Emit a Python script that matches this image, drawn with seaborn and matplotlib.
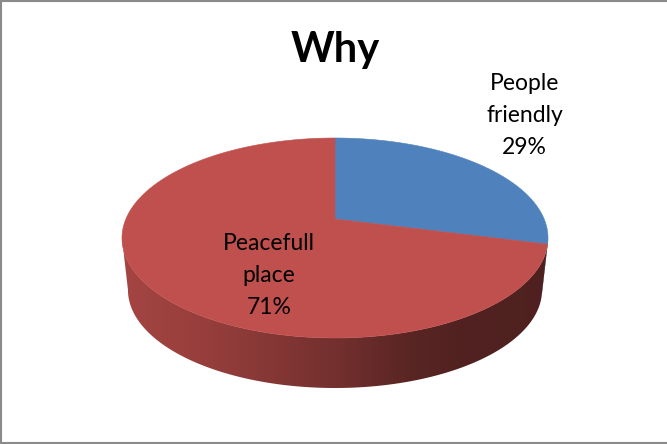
import matplotlib
matplotlib.use("Agg")
import matplotlib.pyplot as plt
import numpy as np
import seaborn as sns
from matplotlib.colors import LinearSegmentedColormap, to_rgb
from matplotlib.lines import Line2D
from matplotlib.patches import Polygon

# chart data
TITLE = "Why"
categories = ["People\nfriendly", "Peacefull\nplace"]
shares = [29, 71]
slice_colors = ["#4F81BD", "#C0504D"]

# label centres, in pie units (1 = pie radius)
label_pos = [(0.89, 1.225), (-0.31, -0.375)]

# pie geometry (pixels of a 667x444 canvas)
W_PX, H_PX = 667, 444
CX, CY = 335, 238          # centre of the top ellipse
RX, RY = 213, 100          # radii of the top ellipse
DEPTH = 0.52               # thickness, in RY units
BOTTOM_SX, BOTTOM_SY = 0.972, 0.98
TILT = np.arctanh(0.19)    # perspective shift of the pie centre
CH, SH = np.cosh(TILT), np.sinh(TILT)

# shading of the side wall across the pie width
shade_nodes = [(0.0, 0.86), (0.2, 0.78), (0.5, 0.60), (0.67, 0.47), (0.8, 0.42), (1.0, 0.41)]


def rim(phi_deg):
    """Perspective point on the rim for pie angle phi (degrees)."""
    phi = np.radians(phi_deg)
    x, y = np.cos(phi), np.sin(phi)
    w = SH * y + CH
    return x / w, (CH * y + SH) / w


def screen_angle(phi_deg):
    x, y = rim(phi_deg)
    return np.degrees(np.arctan2(y, x)) % 360


def side_cmap(color):
    r, g, b = to_rgb(color)
    return LinearSegmentedColormap.from_list(
        "side", [(p, (r * k, g * k, b * k)) for p, k in shade_nodes]
    )


sns.set_theme(style="white")
plt.rcParams["font.family"] = ["Lato", "DejaVu Sans"]

fig = plt.figure(figsize=(W_PX / 100, H_PX / 100), dpi=100)
ax = fig.add_axes([0, 0, 1, 1])
ax.set_axis_off()

# wedge angles: start at 12 o'clock, run clockwise
bounds = 90 - 360 * np.concatenate([[0], np.cumsum(shares)]) / sum(shares)
vertex = (0.0, SH / CH)

# side wall first (front half of the pie only)
for i, color in enumerate(slice_colors):
    start, end = bounds[i], bounds[i + 1]
    lo = screen_angle(end)
    hi = lo + (screen_angle(start) - lo) % 360
    for front_lo, front_hi in [(180, 360), (540, 720)]:
        a, b = max(lo, front_lo), min(hi, front_hi)
        if b <= a:
            continue
        psi = np.radians(np.linspace(a, b, 200))
        top = np.column_stack([np.cos(psi), np.sin(psi)])
        bottom = np.column_stack([BOTTOM_SX * np.cos(psi), BOTTOM_SY * np.sin(psi) - DEPTH])
        wall = Polygon(np.vstack([top, bottom[::-1]]), closed=True,
                       facecolor="none", edgecolor="none")
        ax.add_patch(wall)
        im = ax.imshow(np.linspace(0, 1, 256)[None, :], cmap=side_cmap(color),
                       extent=[-1, 1, -1 - DEPTH - 0.05, 0.05],
                       aspect="auto", interpolation="bilinear", zorder=1)
        im.set_clip_path(wall)

# top face
for i, color in enumerate(slice_colors):
    phis = np.linspace(bounds[i], bounds[i + 1], 300)
    xs, ys = rim(phis)
    pts = np.vstack([[vertex], np.column_stack([xs, ys])])
    ax.add_patch(Polygon(pts, closed=True, facecolor=color, edgecolor=color,
                         linewidth=0.4, zorder=2))

# data labels
for (lx, ly), cat, share in zip(label_pos, categories, shares):
    ax.text(lx, ly, f"{cat}\n{share}%", ha="center", va="center",
            fontsize=16.5, linespacing=1.66, color="black", zorder=3)

ax.set_xlim(-CX / RX, (W_PX - CX) / RX)
ax.set_ylim(-(H_PX - CY) / RY, CY / RY)

fig.text(0.503, 1 - 62 / H_PX, TITLE, ha="center", va="baseline",
         fontsize=30, fontweight="bold", color="black")

# chart area border (left, top, bottom)
border = dict(color="#8a8a8a", linewidth=1.5, transform=fig.transFigure)
fig.add_artist(Line2D([1.5 / W_PX, 1.5 / W_PX], [0.0035, 1], **border))
fig.add_artist(Line2D([0, 1], [1 - 1 / H_PX, 1 - 1 / H_PX], **border))
fig.add_artist(Line2D([0, 1], [1.5 / H_PX, 1.5 / H_PX], **border))

fig.savefig("out.png", dpi=100)
